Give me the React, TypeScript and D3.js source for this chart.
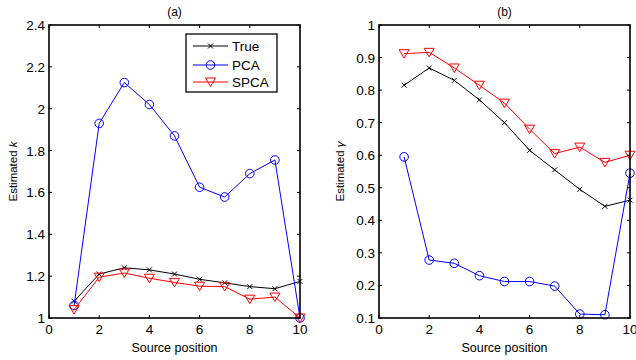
import { useEffect, useRef } from 'react';
import * as d3 from 'd3';

const positions = [1, 2, 3, 4, 5, 6, 7, 8, 9, 10];

const kTrue = [1.08, 1.21, 1.24, 1.23, 1.21, 1.185, 1.168, 1.15, 1.14, 1.175];
const kPCA = [1.06, 1.93, 2.125, 2.02, 1.87, 1.625, 1.578, 1.69, 1.755, 1.0];
const kSPCA = [1.04, 1.195, 1.215, 1.19, 1.17, 1.152, 1.15, 1.09, 1.1, 1.0];

const gTrue = [0.815, 0.868, 0.83, 0.77, 0.7, 0.615, 0.555, 0.495, 0.443, 0.462];
const gPCA = [0.595, 0.278, 0.268, 0.23, 0.212, 0.212, 0.198, 0.112, 0.11, 0.545];
const gSPCA = [0.912, 0.916, 0.868, 0.815, 0.76, 0.68, 0.605, 0.625, 0.578, 0.6];

const xTicks = [0, 2, 4, 6, 8, 10];
const kTicks = [1, 1.2, 1.4, 1.6, 1.8, 2, 2.2, 2.4];
const gTicks = [0.1, 0.2, 0.3, 0.4, 0.5, 0.6, 0.7, 0.8, 0.9, 1];

const FONT = 'Arial, "Liberation Sans", sans-serif';

type Marker = 'x' | 'o' | 'v';

function drawMarker(g: d3.Selection<SVGGElement, unknown, null, undefined>, type: Marker, cx: number, cy: number, color: string) {
    if (type === 'x') {
        const s = 2.5;
        g.append('path')
            .attr('d', `M${cx - s},${cy - s}L${cx + s},${cy + s}M${cx - s},${cy + s}L${cx + s},${cy - s}`)
            .attr('stroke', color).attr('stroke-width', 1).attr('fill', 'none');
    } else if (type === 'o') {
        g.append('circle').attr('cx', cx).attr('cy', cy).attr('r', 4.3)
            .attr('stroke', color).attr('stroke-width', 1).attr('fill', 'none');
    } else {
        const s = 5;
        g.append('path')
            .attr('d', `M${cx - s},${cy - s * 0.8}L${cx + s},${cy - s * 0.8}L${cx},${cy + s * 0.9}Z`)
            .attr('stroke', color).attr('stroke-width', 1).attr('fill', 'none');
    }
}

interface PanelOpts {
    left: number;
    right: number;
    top: number;
    bottom: number;
    yDomain: [number, number];
    yTicks: number[];
    yFormat: (v: number) => string;
    title: string;
    ySymbol: string;
    yLabelX: number;
    series: { values: number[]; color: string; marker: Marker }[];
    legend: boolean;
}

function drawPanel(svg: d3.Selection<SVGSVGElement, unknown, null, undefined>, o: PanelOpts) {
    const x = d3.scaleLinear().domain([0, 10]).range([o.left, o.right]);
    const y = d3.scaleLinear().domain(o.yDomain).range([o.bottom, o.top]);
    const g = svg.append('g');

    // series
    o.series.forEach(s => {
        const line = d3.line<number>().x((_, i) => x(positions[i])).y(d => y(d));
        g.append('path').attr('d', line(s.values)).attr('fill', 'none')
            .attr('stroke', s.color).attr('stroke-width', 1);
        s.values.forEach((v, i) => drawMarker(g, s.marker, x(positions[i]), y(v), s.color));
    });

    // box
    g.append('rect').attr('x', o.left).attr('y', o.top)
        .attr('width', o.right - o.left).attr('height', o.bottom - o.top)
        .attr('fill', 'none').attr('stroke', '#000').attr('stroke-width', 1.6);

    const tl = 3;
    xTicks.forEach(t => {
        g.append('line').attr('x1', x(t)).attr('x2', x(t)).attr('y1', o.bottom).attr('y2', o.bottom - tl).attr('stroke', '#000');
        g.append('line').attr('x1', x(t)).attr('x2', x(t)).attr('y1', o.top).attr('y2', o.top + tl).attr('stroke', '#000');
        g.append('text').attr('x', x(t)).attr('y', o.bottom + 16).attr('text-anchor', 'middle')
            .attr('font-family', FONT).attr('font-size', 13.5).text(String(t));
    });
    o.yTicks.forEach(t => {
        g.append('line').attr('x1', o.left).attr('x2', o.left + tl).attr('y1', y(t)).attr('y2', y(t)).attr('stroke', '#000');
        g.append('line').attr('x1', o.right).attr('x2', o.right - tl).attr('y1', y(t)).attr('y2', y(t)).attr('stroke', '#000');
        g.append('text').attr('x', o.left - 4).attr('y', y(t) + 5).attr('text-anchor', 'end')
            .attr('font-family', FONT).attr('font-size', 13.5).text(o.yFormat(t));
    });

    g.append('text').attr('x', (o.left + o.right) / 2).attr('y', 352).attr('text-anchor', 'middle')
        .attr('font-family', FONT).attr('font-size', 12.5).text('Source position');
    g.append('text').attr('x', (o.left + o.right) / 2).attr('y', 16).attr('text-anchor', 'middle')
        .attr('font-family', FONT).attr('font-size', 12).text(o.title);

    const yl = g.append('text').attr('transform', `translate(${o.yLabelX},${(o.top + o.bottom) / 2}) rotate(-90)`)
        .attr('text-anchor', 'middle').attr('font-family', FONT).attr('font-size', 11.5);
    yl.append('tspan').text('Estimated ');
    yl.append('tspan').attr('font-style', 'italic').text(o.ySymbol);

    if (o.legend) {
        const lx = 186, ly = 34, lw = 91, lh = 58;
        g.append('rect').attr('x', lx).attr('y', ly).attr('width', lw).attr('height', lh)
            .attr('fill', '#fff').attr('stroke', '#000').attr('stroke-width', 1.3);
        const names = ['True', 'PCA', 'SPCA'];
        const rows = [46, 65, 82];
        o.series.forEach((s, i) => {
            g.append('line').attr('x1', 193).attr('x2', 228).attr('y1', rows[i]).attr('y2', rows[i])
                .attr('stroke', s.color);
            drawMarker(g, s.marker, 210.5, rows[i], s.color);
            g.append('text').attr('x', 232).attr('y', rows[i] + 5).attr('font-family', FONT)
                .attr('font-size', 13.5).text(names[i]);
        });
    }
}

export default function App() {
    const svgRef = useRef<SVGSVGElement>(null);

    useEffect(() => {
        if (!svgRef.current) return;
        const svg = d3.select(svgRef.current);
        svg.selectAll('*').remove();

        drawPanel(svg, {
            left: 49, right: 300, top: 25, bottom: 318,
            yDomain: [1, 2.4], yTicks: kTicks,
            yFormat: v => String(Math.round(v * 10) / 10),
            title: '(a)', ySymbol: 'k', yLabelX: 17,
            series: [
                { values: kTrue, color: '#000', marker: 'x' },
                { values: kPCA, color: '#0000ff', marker: 'o' },
                { values: kSPCA, color: '#ff0000', marker: 'v' },
            ],
            legend: true,
        });

        drawPanel(svg, {
            left: 379, right: 630, top: 25, bottom: 318,
            yDomain: [0.1, 1], yTicks: gTicks,
            yFormat: v => String(Math.round(v * 10) / 10),
            title: '(b)', ySymbol: 'γ', yLabelX: 344,
            series: [
                { values: gTrue, color: '#000', marker: 'x' },
                { values: gPCA, color: '#0000ff', marker: 'o' },
                { values: gSPCA, color: '#ff0000', marker: 'v' },
            ],
            legend: false,
        });
    }, []);

    return (
        <div style={{ position: 'absolute', left: 0, top: 0, width: 636, height: 360, background: '#fff' }}>
            <svg ref={svgRef} width={636} height={360} style={{ display: 'block' }} />
        </div>
    );
}
